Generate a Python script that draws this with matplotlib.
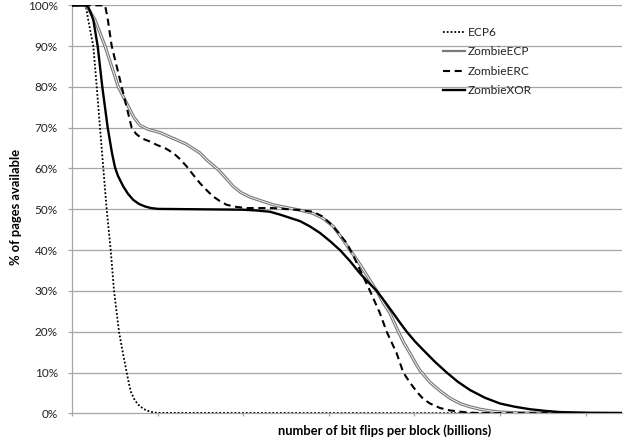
import matplotlib
matplotlib.use("Agg")
import matplotlib.pyplot as plt
import matplotlib.patheffects as pe
from matplotlib.lines import Line2D

plt.rcParams['font.family'] = ['Lato', 'DejaVu Sans']

# x: number of bit flips per block (billions, arbitrary tick units); y: % of pages available
ecp6_x = [0, 0.140, 0.164, 0.190, 0.216, 0.249, 0.289, 0.327, 0.366, 0.405, 0.452, 0.491,
          0.549, 0.599, 0.639, 0.666, 0.689, 0.724, 0.759, 0.794, 0.853, 0.911, 0.993, 6.425]
ecp6_y = [100, 100, 99.5, 96.4, 93.5, 90, 80, 70, 60, 50, 40, 30,
          20, 14.3, 10, 7.2, 5.2, 3.6, 2.5, 1.7, 0.9, 0.4, 0.1, 0]

zecp_x = [0, 0.152, 0.187, 0.269, 0.386, 0.541, 0.658, 0.724, 0.794, 0.888,
          1.028, 1.223, 1.332, 1.495, 1.574, 1.709, 1.799, 1.884, 1.974, 2.079, 2.220,
          2.352, 2.512, 2.664, 2.815, 2.932, 3.053, 3.143, 3.248, 3.329, 3.403,
          3.481, 3.560, 3.633, 3.715, 3.812, 3.878, 3.949, 4.007, 4.065, 4.182,
          4.299, 4.416, 4.533, 4.650, 4.766, 4.883, 5.000, 5.175, 5.350, 6.425]
zecp_y = [100, 100, 99.3, 96.4, 90, 80, 75.2, 72.5, 70.6, 69.6,
          68.8, 67, 66.0, 63.8, 62.1, 59.7, 57.6, 55.6, 54.1, 53, 52,
          51.1, 50.4, 49.8, 49, 47.8, 45.8, 43.2, 40, 37.6, 35.2,
          32.6, 30, 27.2, 24.5, 20, 17.2, 14.7, 12.5, 10.5, 7.6,
          5.5, 3.7, 2.4, 1.6, 1.0, 0.6, 0.3, 0.15, 0.05, 0]

zerc_x = [0, 0.386, 0.415, 0.464, 0.581, 0.697, 0.748, 0.814, 0.911, 0.989,
          1.086, 1.183, 1.262, 1.340, 1.414, 1.495, 1.577, 1.651, 1.729, 1.807,
          1.916, 2.041, 2.348, 2.664, 2.815, 2.921, 3.014, 3.107, 3.209, 3.294,
          3.384, 3.481, 3.598, 3.676, 3.793, 3.870, 3.949, 4.027, 4.100, 4.182,
          4.299, 4.416, 4.614, 4.766, 6.425]
zerc_y = [100, 100, 97, 90, 80, 70, 68.5, 67.4, 66.6, 65.8,
          65, 63.8, 62.3, 60.5, 58.5, 56.4, 54.6, 53.1, 52, 51.1,
          50.6, 50.3, 50.3, 49.8, 49.4, 48.3, 46.6, 44.4, 41.7, 38.3,
          34.3, 30, 24.5, 20, 14.7, 10, 7.5, 5.3, 3.6, 2.4,
          1.3, 0.7, 0.2, 0.05, 0]

zxor_x = [0, 0.164, 0.190, 0.216, 0.249, 0.300, 0.354, 0.417, 0.467, 0.502, 0.537,
          0.599, 0.654, 0.716, 0.783, 0.853, 0.923, 1.005, 1.495, 1.998, 2.161,
          2.313, 2.430, 2.547, 2.664, 2.780, 2.897, 3.014, 3.131, 3.248, 3.364,
          3.458, 3.560, 3.657, 3.754, 3.832, 3.910, 4.007, 4.104, 4.241, 4.377,
          4.509, 4.650, 4.825, 5.000, 5.175, 5.350, 5.525, 5.701, 6.051, 6.425]
zxor_y = [100, 100, 99.5, 98.3, 96.4, 90, 80, 70, 63.8, 60.3, 58.2,
          55.6, 53.8, 52.3, 51.3, 50.7, 50.3, 50.1, 50, 49.9, 49.7,
          49.4, 48.7, 47.9, 47.1, 45.8, 44.2, 42.2, 40, 37.3, 34.3,
          32.2, 30, 27.3, 24.5, 22.2, 20, 17.6, 15.5, 12.6, 10,
          7.7, 5.7, 3.8, 2.4, 1.6, 1.0, 0.6, 0.3, 0.1, 0.05]

series_names = ['ECP6', 'ZombieECP', 'ZombieERC', 'ZombieXOR']
y_ticks = [0, 10, 20, 30, 40, 50, 60, 70, 80, 90, 100]
y_ticklabels = ['0%', '10%', '20%', '30%', '40%', '50%', '60%', '70%', '80%', '90%', '100%']
x_ticks = [0, 1, 2, 3, 4, 5, 6]

fig = plt.figure(figsize=(6.28, 4.42), dpi=100)
ax = fig.add_axes([72/628, 1-413.3/442, 550/628, 408/442])

grid_c = '#a6a6a6'
for yv in y_ticks[1:]:
    ax.axhline(yv, color=grid_c, lw=0.9, zorder=1)

dot_style = (0, (1, 1.1))
dash_style = (0, (3.4, 2.2))
ecp_gray = '#7a7a7a'

ax.plot(ecp6_x, ecp6_y, color='black', lw=1.3, linestyle=dot_style, zorder=3)
ax.plot(zecp_x, zecp_y, color='white', lw=0.6, zorder=3,
        path_effects=[pe.Stroke(linewidth=2.3, foreground=ecp_gray), pe.Normal()])
ax.plot(zerc_x, zerc_y, color='black', lw=1.5, linestyle=dash_style, zorder=3)
ax.plot(zxor_x, zxor_y, color='black', lw=1.7, zorder=3)

ax.set_xlim(0, 6.425)
ax.set_ylim(0, 100)
ax.set_yticks(y_ticks)
ax.set_yticklabels(y_ticklabels)
ax.set_xticks(x_ticks)
ax.set_xticklabels([])

for s in ['top', 'right']:
    ax.spines[s].set_visible(False)
for s in ['left', 'bottom']:
    ax.spines[s].set_color(grid_c)
    ax.spines[s].set_linewidth(0.9)
ax.tick_params(axis='y', length=3.2, width=0.9, color=grid_c, pad=7, labelsize=8.5, labelcolor='#222222')
ax.tick_params(axis='x', length=2, width=0.9, color=grid_c, direction='out')

fig.text(385/628, 1-431/442, 'number of bit flips per block (billions)', ha='center', va='center',
         fontsize=9.3, fontweight='bold')
fig.text(16/628, 1-207/442, '% of pages available', ha='center', va='center', rotation=90,
         fontsize=9.3, fontweight='bold')

handles = [
    Line2D([], [], color='black', lw=1.3, linestyle=dot_style),
    Line2D([], [], color=ecp_gray, lw=1.6),
    Line2D([], [], color='black', lw=1.5, linestyle=dash_style),
    Line2D([], [], color='black', lw=1.7),
]
leg = ax.legend(handles, series_names, loc='upper left', bbox_to_anchor=(443/628, 1-27/442),
                bbox_transform=fig.transFigure, frameon=False, fontsize=8.6, handlelength=1.85,
                handletextpad=0.25, labelspacing=0.7, borderpad=0, borderaxespad=0)
for t in leg.get_texts():
    t.set_color('#222222')

fig.savefig('out.png', dpi=100)
